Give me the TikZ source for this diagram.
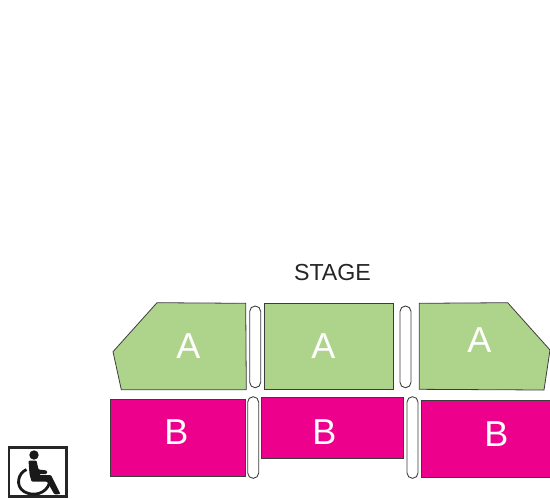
\documentclass[tikz,border=0pt]{standalone}
\usepackage{fontspec}
\setmainfont{Liberation Sans}
\definecolor{cSeatA}{RGB}{174,212,139}
\definecolor{cSeatB}{RGB}{236,0,140}
\definecolor{cEdge}{RGB}{60,60,60}
\tikzset{
	blockA/.style={draw=cEdge, line width=0.45pt, fill=cSeatA},
	blockB/.style={draw=cEdge, line width=0.45pt, fill=cSeatB},
	aisle/.style={draw=cEdge, line width=0.5pt, fill=white, rounded corners=5.4*0.02cm},
	seatlabel/.style={text=white, font=\fontsize{20.5}{21}\selectfont, inner sep=0pt},
	stagelabel/.style={text=black!85, font=\fontsize{13.2}{14}\selectfont, inner sep=0pt},
}
\begin{document}
\begin{tikzpicture}[x=0.02cm, y=-0.02cm]
	\useasboundingbox (0,0) rectangle (550,498);
	% seating blocks
	\draw[blockA] (157,302.7) -- (245.7,303.3) -- (246.3,389.7) -- (121.3,389.7) -- (113,351.7) -- cycle;
	\draw[blockA] (264.3,303) rectangle (393,389.5);
	\draw[blockA] (419.3,303.3) -- (507.7,302.7) -- (550,350) -- (544,390) -- (419.3,389.3) -- cycle;
	\draw[blockB] (110.7,399.3) rectangle (245,476);
	\draw[blockB] (261.3,397.7) rectangle (403.7,458.3);
	\draw[blockB] (421,400.3) rectangle (552,477);
	% aisles
	\foreach \xa/\ya/\xb/\yb in {249.7/306/260.7/387.7, 400/306/411/387.7, 247.7/396.7/258.7/478.3, 407/396.7/418/478.3} {
		\draw[aisle] (\xa,\ya) rectangle (\xb,\yb);
	}
	% labels
	\node[stagelabel] (stage) at (332.5,273) {STAGE};
	\foreach \name/\txt/\xpos/\ypos in {a1/A/188.5/346, a2/A/323.5/346, a3/A/479.5/340, b1/B/176.5/432, b2/B/324.5/432, b3/B/496.5/434} {
		\node[seatlabel] (\name) at (\xpos,\ypos) {\txt};
	}
	% wheelchair sign
	\draw[black!85, line width=1.3pt, fill=white] (9,447.5) rectangle (66.5,496.5);
	\fill[black!90] (34,455) circle (4.7);
	\fill[black!90, rounded corners=0.6pt] (28.5,460.5) -- (36.5,460.5) -- (38.5,469.5) -- (47,470.5) -- (47,474) -- (39,474) -- (39.3,475) -- (51,475) -- (60.5,494) -- (54.5,494.5) -- (47,481.5) -- (31.5,481.5) -- (29.5,474) -- cycle;
	\draw[black!90, line width=1.6pt] (26.5,469.5) .. controls (18,473) and (15,486) .. (24,491.5) .. controls (33,497) and (46,494) .. (49.5,483);
\end{tikzpicture}
\end{document}
